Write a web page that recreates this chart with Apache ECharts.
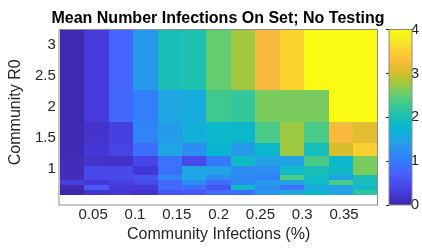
<!DOCTYPE html>
<html>
<head>
<meta charset="utf-8">
<script src="https://cdn.jsdelivr.net/npm/echarts@6/dist/echarts.min.js"></script>
<style>
  html, body { margin: 0; padding: 0; background: #fff; }
  #chart { width: 422px; height: 248px; }
</style>
</head>
<body>
<div id="chart"></div>
<script>
// cell edges along x: community infections (%)
var infEdges = [0.01, 0.0392, 0.0685, 0.0977, 0.1269, 0.1562, 0.1854, 0.2146, 0.2438, 0.2731, 0.3023, 0.3315, 0.3608, 0.39];
// cell edges along y: community R0
var r0Edges = [0.578, 0.665, 0.741, 0.817, 0.909, 1.046, 1.203, 1.427, 1.756, 2.269, 3.251];

// mean number of infections on set, one list per R0 band (bottom to top)
var band1  = [0.02, 0.2, 0.25, 0.2, 0.6, 0.62, 0.85, 0.88, 1.3, 1.5, 1.8, 1.45, 2.15];
var band2  = [0.07, 0.65, 0.27, 0.27, 0.82, 0.88, 0.58, 1.85, 1.2, 0.9, 1.5, 1.45, 1.85];
var band3  = [0.35, 0.25, 0.35, 0.45, 0.75, 1.2, 0.85, 1.15, 1.35, 1.45, 1.85, 2.35, 1.95];
var band4  = [0.1, 0.45, 0.45, 0.55, 1.15, 1.5, 1.2, 1.15, 1.05, 2.35, 1.9, 1.45, 2.0];
var band5  = [0.1, 0.45, 0.45, 0.25, 0.88, 1.5, 1.45, 1.2, 1.2, 1.85, 2.0, 1.85, 2.6];
var band6  = [0.1, 0.2, 0.18, 0.42, 0.9, 0.45, 0.95, 1.85, 1.45, 1.45, 2.35, 1.8, 2.6];
var band7  = [0.08, 0.25, 0.4, 0.85, 1.5, 1.2, 1.75, 1.35, 1.8, 2.75, 1.95, 3.05, 3.5];
var band8  = [0.07, 0.2, 0.35, 1.1, 1.4, 1.65, 1.8, 1.8, 2.35, 2.75, 2.35, 3.25, 3.1];
var band9  = [0.05, 0.3, 0.78, 1.05, 1.5, 1.6, 2.3, 2.22, 2.6, 2.6, 2.6, 4, 4];
var band10 = [0.05, 0.3, 0.75, 1.35, 2.0, 2.05, 2.5, 2.78, 3.25, 3.55, 4, 4, 4];

var xTicks = [0.05, 0.1, 0.15, 0.2, 0.25, 0.3, 0.35];
var yTicks = [1, 1.5, 2, 2.5, 3];
var cbarMin = 0, cbarMax = 4;

// parula
var parula = ['#3E26A8', '#4537D5', '#484DF0', '#4563FD', '#327CFC', '#2B91EF', '#20A5E3', '#08B5D0',
              '#19BFB6', '#37C897', '#63CD6F', '#9DC943', '#D1BF27', '#F8BA3D', '#FCCF30', '#F5E924', '#F9FB15'];

var bands = [band1, band2, band3, band4, band5, band6, band7, band8, band9, band10];
var cells = [];
for (var j = 0; j < bands.length; j++) {
  for (var i = 0; i < bands[j].length; i++) {
    cells.push([infEdges[i], infEdges[i + 1], r0Edges[j], r0Edges[j + 1], bands[j][i]]);
  }
}

var font = "'Liberation Sans', Arial, Helvetica, sans-serif";
var ink = '#262626';

function renderCell(params, api) {
  var a = api.coord([api.value(0), api.value(3)]);
  var b = api.coord([api.value(1), api.value(2)]);
  var x0 = Math.round(a[0]), y0 = Math.round(a[1]);
  var x1 = Math.round(b[0]), y1 = Math.round(b[1]);
  return {
    type: 'rect',
    shape: { x: x0, y: y0, width: x1 - x0, height: y1 - y0 },
    style: { fill: api.visual('color') }
  };
}

var gradStops = parula.map(function (c, k) {
  return { offset: k / (parula.length - 1), color: c };
});

var myChart = echarts.init(document.getElementById('chart'));
myChart.setOption({
  animation: false,
  textStyle: { fontFamily: font },
  graphic: [
    {
      type: 'text', x: 218, y: 19, z: 100,
      style: {
        text: 'Mean Number Infections On Set; No Testing',
        fontFamily: font, fontSize: 16, fontWeight: 'bold', fill: '#000',
        align: 'center', verticalAlign: 'middle'
      }
    },
    {
      // plot box
      type: 'rect', z: 100,
      shape: { x: 59, y: 29.5, width: 318.5, height: 175.5 },
      style: { fill: null, stroke: '#8c8c8c', lineWidth: 1 }
    },
    {
      // colorbar
      type: 'rect', z: 100,
      shape: { x: 389, y: 29.5, width: 23, height: 175.5 },
      style: {
        fill: new echarts.graphic.LinearGradient(0, 1, 0, 0, gradStops),
        stroke: '#8c8c8c', lineWidth: 1
      }
    }
  ],
  grid: [
    { left: 59, top: 29.5, width: 318.5, height: 175.5 },
    { left: 389, top: 29.5, width: 23, height: 175.5 }
  ],
  visualMap: {
    show: false,
    type: 'continuous',
    seriesIndex: 0,
    dimension: 4,
    min: cbarMin,
    max: cbarMax,
    inRange: { color: parula }
  },
  xAxis: [
    {
      type: 'value', gridIndex: 0,
      min: infEdges[0], max: infEdges[infEdges.length - 1],
      name: 'Community Infections (%)',
      nameLocation: 'middle', nameGap: 31,
      nameTextStyle: { fontSize: 16, color: ink, fontFamily: font },
      splitLine: { show: false },
      axisLine: { show: false },
      axisTick: { show: false },
      axisLabel: { customValues: xTicks, fontSize: 15, color: ink, margin: 12, fontFamily: font }
    },
    { type: 'value', gridIndex: 1, show: false, min: 0, max: 1 }
  ],
  yAxis: [
    {
      type: 'value', gridIndex: 0,
      min: r0Edges[0], max: r0Edges[r0Edges.length - 1],
      name: 'Community R0',
      nameLocation: 'middle', nameGap: 33,
      nameTextStyle: { fontSize: 16, color: ink, fontFamily: font },
      splitLine: { show: false },
      axisLine: { show: false },
      axisTick: { show: false },
      axisLabel: { customValues: yTicks, fontSize: 15, color: ink, margin: 4, fontFamily: font }
    },
    {
      type: 'value', gridIndex: 1, position: 'right',
      min: cbarMin, max: cbarMax, interval: 1,
      splitLine: { show: false },
      axisLine: { show: false },
      axisTick: { show: true, inside: true, length: 3, lineStyle: { color: ink } },
      axisLabel: { fontSize: 15, color: ink, margin: 5, fontFamily: font }
    }
  ],
  series: [
    {
      type: 'custom',
      xAxisIndex: 0, yAxisIndex: 0,
      renderItem: renderCell,
      encode: { x: [0, 1], y: [2, 3] },
      data: cells
    },
    {
      type: 'line', xAxisIndex: 1, yAxisIndex: 1, data: [], silent: true
    }
  ]
});
</script>
</body>
</html>
